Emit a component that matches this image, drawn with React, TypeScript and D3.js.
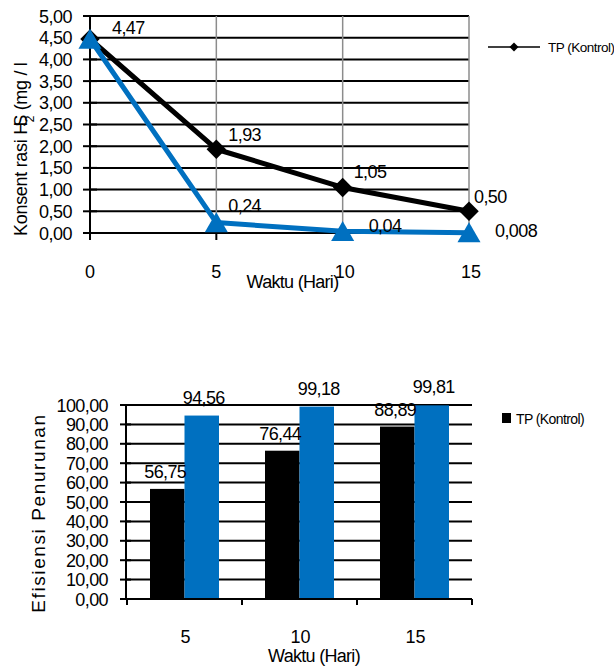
import * as d3 from "d3";
import { useEffect, useRef } from "react";

const width = 614;
const height = 668;
const font = "'Liberation Sans', Arial, sans-serif";
const black = "#000000";
const blue = "#0070C0";

// top chart: H2S concentration over time
const days = [0, 5, 10, 15];
const controlConc = [4.47, 1.93, 1.05, 0.5];
const treatedConc = [4.47, 0.24, 0.04, 0.008];
const controlConcLabels = ["4,47", "1,93", "1,05", "0,50"];
const treatedConcLabels = ["", "0,24", "0,04", "0,008"];
const controlLabelOffsets = [[22, -5], [12, -8], [11, -9], [5, -8]];
const treatedLabelOffsets = [[0, 0], [12, -11], [26, 1], [26, 4]];
const concTicks = [0, 0.5, 1, 1.5, 2, 2.5, 3, 3.5, 4, 4.5, 5];

// bottom chart: removal efficiency
const effDays = ["5", "10", "15"];
const controlEff = [56.75, 76.44, 88.89];
const treatedEff = [94.56, 99.18, 99.81];
const controlEffLabels = ["56,75", "76,44", "88,89"];
const treatedEffLabels = ["94,56", "99,18", "99,81"];
const effTicks = [0, 10, 20, 30, 40, 50, 60, 70, 80, 90, 100];

const legendName = "TP (Kontrol)";

const fmt = (v: number) => d3.format(".2f")(v).replace(".", ",");

export default function App() {
  const svgRef = useRef<SVGSVGElement>(null);

  useEffect(() => {
    if (!svgRef.current) return;
    const svg = d3.select(svgRef.current);
    svg.selectAll("*").remove();
    drawLineChart(svg);
    drawBarChart(svg);
  }, []);

  return (
    <svg
      ref={svgRef}
      width={width}
      height={height}
      viewBox={`0 0 ${width} ${height}`}
      style={{ position: "absolute", left: 0, top: 0, display: "block", background: "#fff" }}
      fontFamily={font}
    />
  );
}

function drawLineChart(svg: any) {
  const x = d3.scaleLinear().domain([0, 15]).range([90, 469]);
  const y = d3.scaleLinear().domain([0, 5]).range([233, 16]);
  const g = svg.append("g");

  // horizontal gridlines
  g.selectAll(".hgrid")
    .data(concTicks.slice(1))
    .join("line")
    .attr("x1", x(0))
    .attr("x2", x(15))
    .attr("y1", (d: number) => y(d))
    .attr("y2", (d: number) => y(d))
    .attr("stroke", black)
    .attr("stroke-width", 2);

  // vertical gridlines
  g.selectAll(".vgrid")
    .data(days.slice(1))
    .join("line")
    .attr("x1", (d: number) => x(d))
    .attr("x2", (d: number) => x(d))
    .attr("y1", y(5))
    .attr("y2", y(0))
    .attr("stroke", "#8c8c8c")
    .attr("stroke-width", 1.5);

  // y axis
  g.append("line")
    .attr("x1", x(0)).attr("x2", x(0))
    .attr("y1", y(5)).attr("y2", y(0))
    .attr("stroke", black).attr("stroke-width", 2);
  g.selectAll(".ytick")
    .data(concTicks)
    .join("line")
    .attr("x1", x(0) - 7)
    .attr("x2", x(0) + 7)
    .attr("y1", (d: number) => y(d))
    .attr("y2", (d: number) => y(d))
    .attr("stroke", black)
    .attr("stroke-width", 2);
  g.selectAll(".ylab")
    .data(concTicks)
    .join("text")
    .attr("x", x(0) - 18)
    .attr("y", (d: number) => y(d) + 6.5)
    .attr("text-anchor", "end")
    .style("font-size", "18px")
    .style("letter-spacing", "-0.5px")
    .text((d: number) => fmt(d));

  // x axis
  g.append("line")
    .attr("x1", x(0)).attr("x2", x(15))
    .attr("y1", y(0)).attr("y2", y(0))
    .attr("stroke", black).attr("stroke-width", 2);
  g.selectAll(".xtick")
    .data(days)
    .join("line")
    .attr("x1", (d: number) => x(d))
    .attr("x2", (d: number) => x(d))
    .attr("y1", y(0))
    .attr("y2", y(0) + 7)
    .attr("stroke", black)
    .attr("stroke-width", 2);
  g.selectAll(".xlab")
    .data(days)
    .join("text")
    .attr("x", (d: number) => x(d) + (d >= 10 ? 2 : 0))
    .attr("y", 278)
    .attr("text-anchor", "middle")
    .style("font-size", "18px")
    .text((d: number) => String(d));

  g.append("text")
    .attr("x", x(7.5) + 13)
    .attr("y", 288)
    .attr("text-anchor", "middle")
    .style("font-size", "18px")
    .style("letter-spacing", "-0.7px")
    .text("Waktu (Hari)");

  const yTitle = g.append("text")
    .attr("transform", "translate(27, 236) rotate(-90)")
    .style("font-size", "18px")
    .style("letter-spacing", "-0.3px");
  yTitle.append("tspan").text("Konsent rasi H");
  yTitle.append("tspan").attr("baseline-shift", "sub").style("font-size", "12px").text("2");
  yTitle.append("tspan").attr("dx", -11).text("S (mg / l");

  // lines
  const lineGen = d3.line<number>()
    .x((_, i) => x(days[i]))
    .y((d) => y(d));

  g.append("path")
    .datum(controlConc)
    .attr("d", lineGen)
    .attr("fill", "none")
    .attr("stroke", black)
    .attr("stroke-width", 5)
    .attr("stroke-linejoin", "round");

  const diamond = d3.symbol().type(d3.symbolSquare).size(190);
  g.selectAll(".diamond")
    .data(controlConc)
    .join("path")
    .attr("d", diamond)
    .attr("transform", (d: number, i: number) => `translate(${x(days[i])}, ${y(d)}) rotate(45)`)
    .attr("fill", black);

  g.append("path")
    .datum(treatedConc)
    .attr("d", lineGen)
    .attr("fill", "none")
    .attr("stroke", blue)
    .attr("stroke-width", 5)
    .attr("stroke-linejoin", "round");

  const triangle = d3.symbol().type(d3.symbolTriangle).size(230);
  g.selectAll(".triangle")
    .data(treatedConc)
    .join("path")
    .attr("d", triangle)
    .attr("transform", (d: number, i: number) => `translate(${x(days[i])}, ${y(d) + 3})`)
    .attr("fill", blue);

  // data labels
  g.selectAll(".clab")
    .data(controlConc)
    .join("text")
    .attr("x", (_: number, i: number) => x(days[i]) + controlLabelOffsets[i][0])
    .attr("y", (d: number, i: number) => y(d) + controlLabelOffsets[i][1])
    .style("font-size", "18px")
    .style("letter-spacing", "-0.6px")
    .text((_: number, i: number) => controlConcLabels[i]);

  g.selectAll(".tlab")
    .data(treatedConc)
    .join("text")
    .attr("x", (_: number, i: number) => x(days[i]) + treatedLabelOffsets[i][0])
    .attr("y", (d: number, i: number) => y(d) + treatedLabelOffsets[i][1])
    .style("font-size", "18px")
    .style("letter-spacing", "-0.6px")
    .text((_: number, i: number) => treatedConcLabels[i]);

  // legend
  const legend = g.append("g").attr("transform", "translate(488, 47)");
  legend.append("line")
    .attr("x1", 0).attr("x2", 52)
    .attr("y1", 0).attr("y2", 0)
    .attr("stroke", black).attr("stroke-width", 1.5);
  legend.append("path")
    .attr("d", d3.symbol().type(d3.symbolSquare).size(40)())
    .attr("transform", "translate(26, 0) rotate(45)")
    .attr("fill", black);
  legend.append("text")
    .attr("x", 60)
    .attr("y", 5)
    .style("font-size", "13.5px")
    .style("letter-spacing", "-0.5px")
    .text(legendName);
}

function drawBarChart(svg: any) {
  const x0 = d3.scaleBand().domain(effDays).range([127, 472]);
  const x1 = d3.scaleBand()
    .domain(["control", "treated"])
    .range([0, x0.bandwidth()])
    .paddingOuter(2 / 3);
  const y = d3.scaleLinear().domain([0, 100]).range([599, 405]);
  const g = svg.append("g");

  g.selectAll(".hgrid")
    .data(effTicks.slice(1))
    .join("line")
    .attr("x1", 127)
    .attr("x2", 472)
    .attr("y1", (d: number) => y(d))
    .attr("y2", (d: number) => y(d))
    .attr("stroke", black)
    .attr("stroke-width", 2);

  const groups = g.selectAll(".grp")
    .data(effDays)
    .join("g")
    .attr("transform", (d: string) => `translate(${x0(d)}, 0)`);

  groups.append("rect")
    .attr("x", x1("control"))
    .attr("width", x1.bandwidth())
    .attr("y", (_: string, i: number) => y(controlEff[i]))
    .attr("height", (_: string, i: number) => y(0) - y(controlEff[i]))
    .attr("fill", black);

  groups.append("rect")
    .attr("x", x1("treated"))
    .attr("width", x1.bandwidth())
    .attr("y", (_: string, i: number) => y(treatedEff[i]))
    .attr("height", (_: string, i: number) => y(0) - y(treatedEff[i]))
    .attr("fill", blue);

  groups.append("text")
    .attr("x", (x1("control") as number) + x1.bandwidth() / 2 - 2)
    .attr("y", (_: string, i: number) => y(controlEff[i]) - 11)
    .attr("text-anchor", "middle")
    .style("font-size", "18px")
    .style("letter-spacing", "-0.6px")
    .text((_: string, i: number) => controlEffLabels[i]);

  groups.append("text")
    .attr("x", (x1("treated") as number) + x1.bandwidth() / 2 + 2)
    .attr("y", (_: string, i: number) => y(treatedEff[i]) - 12)
    .attr("text-anchor", "middle")
    .style("font-size", "18px")
    .style("letter-spacing", "-0.6px")
    .text((_: string, i: number) => treatedEffLabels[i]);

  // y axis
  g.append("line")
    .attr("x1", 126).attr("x2", 126)
    .attr("y1", y(100)).attr("y2", y(0))
    .attr("stroke", black).attr("stroke-width", 2);
  g.selectAll(".ytick")
    .data(effTicks)
    .join("line")
    .attr("x1", 120)
    .attr("x2", 131)
    .attr("y1", (d: number) => y(d))
    .attr("y2", (d: number) => y(d))
    .attr("stroke", black)
    .attr("stroke-width", 2);
  g.selectAll(".ylab")
    .data(effTicks)
    .join("text")
    .attr("x", 108)
    .attr("y", (d: number) => y(d) + 6.5)
    .attr("text-anchor", "end")
    .style("font-size", "18px")
    .style("letter-spacing", "-0.6px")
    .text((d: number) => fmt(d));

  // x axis
  g.append("line")
    .attr("x1", 126).attr("x2", 472)
    .attr("y1", y(0)).attr("y2", y(0))
    .attr("stroke", black).attr("stroke-width", 2);
  const bounds = [...effDays.map((d) => x0(d) as number), 472];
  g.selectAll(".xtick")
    .data(bounds)
    .join("line")
    .attr("x1", (d: number) => d)
    .attr("x2", (d: number) => d)
    .attr("y1", y(0))
    .attr("y2", y(0) + 6)
    .attr("stroke", black)
    .attr("stroke-width", 2);
  g.selectAll(".xlab")
    .data(effDays)
    .join("text")
    .attr("x", (d: string) => (x0(d) as number) + x0.bandwidth() / 2 + 1)
    .attr("y", 643)
    .attr("text-anchor", "middle")
    .style("font-size", "18px")
    .text((d: string) => d);

  g.append("text")
    .attr("x", 314)
    .attr("y", 662)
    .attr("text-anchor", "middle")
    .style("font-size", "18px")
    .style("letter-spacing", "-0.7px")
    .text("Waktu (Hari)");

  g.append("text")
    .attr("transform", "translate(45, 513) rotate(-90)")
    .attr("text-anchor", "middle")
    .style("font-size", "19px")
    .style("letter-spacing", "1.6px")
    .text("Efisiensi Penurunan");

  const legend = g.append("g").attr("transform", "translate(502, 413)");
  legend.append("rect")
    .attr("width", 9).attr("height", 10)
    .attr("fill", black);
  legend.append("text")
    .attr("x", 14)
    .attr("y", 11)
    .style("font-size", "14px")
    .style("letter-spacing", "-0.6px")
    .text(legendName);
}
